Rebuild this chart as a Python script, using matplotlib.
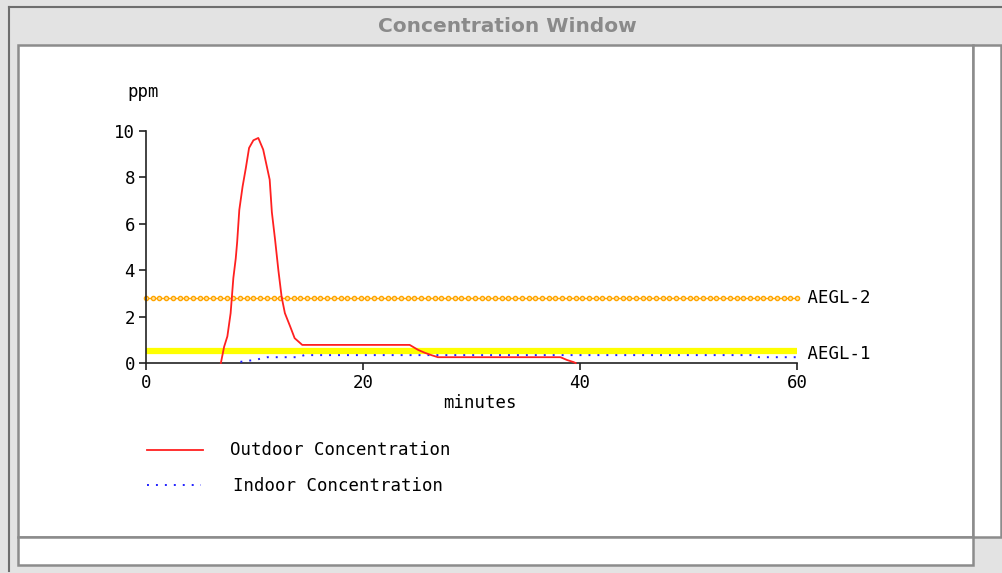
import numpy as np
import matplotlib
matplotlib.use('Agg')
import matplotlib.pyplot as plt
from matplotlib.patches import Rectangle
from matplotlib.lines import Line2D

# concentration data (minutes, ppm)
outdoor_t = [6.9, 7.2, 7.5, 7.8, 8.05, 8.27, 8.4, 8.6, 8.9, 9.2, 9.5, 9.9, 10.35,
             10.8, 11.4, 11.6, 11.9, 12.2, 12.5, 12.8, 13.3, 13.7, 14.4, 24.3,
             25.1, 25.7, 26.3, 26.9, 38.2, 38.8, 39.4, 39.6]
outdoor_ppm = [0, 0.7, 1.15, 2.15, 3.66, 4.5, 5.2, 6.6, 7.6, 8.4, 9.27, 9.6, 9.7,
               9.2, 7.9, 6.5, 5.3, 4.0, 2.85, 2.15, 1.56, 1.07, 0.78, 0.78,
               0.56, 0.44, 0.34, 0.25, 0.25, 0.13, 0.04, 0]
indoor_t = [8.7, 9.3, 10.0, 10.6, 11.2, 14.0, 14.6, 56.1, 56.5, 60]
indoor_ppm = [0.05, 0.09, 0.13, 0.19, 0.25, 0.25, 0.34, 0.34, 0.25, 0.25]

aegl2 = 2.8
aegl1 = 0.5
xticks = [0, 20, 40, 60]
yticks = [0, 2, 4, 6, 8, 10]

W, H = 1003, 573
def fx(x): return x / W
def fy(y): return 1 - y / H

mono = 'DejaVu Sans Mono'
fs = 12.5
fig = plt.figure(figsize=(W / 100, H / 100), dpi=100, facecolor='#e3e3e3')

# window frame
edge = '#8c8c8c'
fig.add_artist(Line2D([fx(9), fx(1003)], [fy(7), fy(7)], color='#6e6e6e', lw=1.5, zorder=-2))
fig.add_artist(Line2D([fx(9), fx(9)], [fy(7), fy(571)], color='#6e6e6e', lw=1.5, zorder=-2))
for (x0, y0, x1, y1) in [(18, 45, 973, 537), (973, 45, 1001, 537), (18, 537, 973, 565)]:
    fig.add_artist(Rectangle((fx(x0), fy(y1)), fx(x1) - fx(x0), fy(y0) - fy(y1),
                             facecolor='white', edgecolor=edge, lw=1.8, zorder=-1))
fig.text(fx(507), fy(26), 'Concentration Window', ha='center', va='center',
         fontsize=14.5, fontweight='bold', color='#8a8a8a')

ax = fig.add_axes([fx(146), fy(363), fx(797) - fx(146), fy(131) - fy(363)])
ax.set_zorder(5)
ax.set_xlim(0, 60)
ax.set_ylim(0, 10)
ax.patch.set_alpha(0)

ax.plot([0, 60], [aegl1, aegl1], color='#ffff00', lw=4.5, solid_capstyle='butt',
        zorder=1, clip_on=False)
mx = np.linspace(0, 60, 98)
ax.plot(mx, [aegl2] * len(mx), color='#ffa500', lw=1, marker='o', ms=3.0,
        mfc='#ffe3a8', mec='#ffa500', mew=1, zorder=2, clip_on=False)
ax.plot(outdoor_t, outdoor_ppm, color='#ff2020', lw=1.3, zorder=4, clip_on=False)
ax.plot(indoor_t, indoor_ppm, color='#2020ff', lw=1.4, ls=(0, (1, 3.6)), zorder=3)

ax.text(60, aegl2, ' AEGL-2', fontsize=fs, family=mono, va='center', ha='left')
ax.text(60, aegl1 - 0.1, ' AEGL-1', fontsize=fs, family=mono, va='center', ha='left')

for s in ['top', 'right']:
    ax.spines[s].set_visible(False)
for s in ['left', 'bottom']:
    ax.spines[s].set_linewidth(1.2)
    ax.spines[s].set_color('#222222')
ax.set_xticks(xticks)
ax.set_yticks(yticks)
ax.tick_params(length=5, width=1.2, color='#222222', labelsize=fs, pad=3)
for lab in ax.get_xticklabels() + ax.get_yticklabels():
    lab.set_family(mono)

fig.text(fx(143), fy(92), 'ppm', ha='center', va='center', fontsize=fs, family=mono)
fig.text(fx(480), fy(403), 'minutes', ha='center', va='center', fontsize=fs, family=mono)

# legend
fig.add_artist(Line2D([fx(147), fx(203)], [fy(450), fy(450)], color='#ff2020', lw=1.3))
fig.add_artist(Line2D([fx(147), fx(201)], [fy(485), fy(485)], color='#2020ff', lw=1.4,
                      ls=(0, (1, 3.6))))
fig.text(fx(230), fy(450), 'Outdoor Concentration', va='center', fontsize=fs, family=mono)
fig.text(fx(233), fy(486), 'Indoor Concentration', va='center', fontsize=fs, family=mono)

fig.savefig('out.png', dpi=100, facecolor=fig.get_facecolor())
